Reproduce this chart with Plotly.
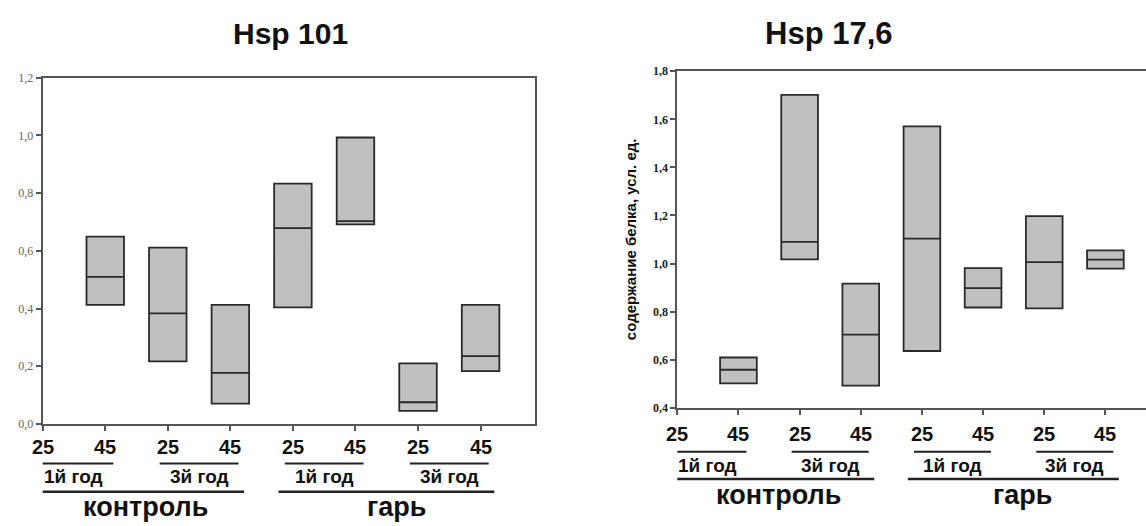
import plotly.graph_objects as go

# ---------------- data ----------------
cat_labels = ["25", "45", "25", "45", "25", "45", "25", "45"]
year_labels = ["1й год", "3й год", "1й год", "3й год"]
year_start = [0, 2, 4, 6]
site_labels = ["контроль", "гарь"]
site_start = [0, 4]
site_end = [3, 7]

# Hsp 101 (boxes at categories 1..7)
hsp101_pos = [1, 2, 3, 4, 5, 6, 7]
hsp101_q1 = [0.413, 0.217, 0.070, 0.404, 0.692, 0.045, 0.183]
hsp101_med = [0.510, 0.383, 0.177, 0.679, 0.703, 0.075, 0.235]
hsp101_q3 = [0.649, 0.611, 0.413, 0.833, 0.993, 0.210, 0.413]

# Hsp 17,6
hsp176_pos = [1, 2, 3, 4, 5, 6, 7]
hsp176_q1 = [0.501, 1.017, 0.492, 0.636, 0.817, 0.813, 0.979]
hsp176_med = [0.558, 1.090, 0.704, 1.104, 0.898, 1.006, 1.016]
hsp176_q3 = [0.609, 1.702, 0.916, 1.571, 0.981, 1.197, 1.055]

W, H = 1146, 526
SANS = "Liberation Sans, Arial, sans-serif"
SERIF = "Liberation Serif, Times New Roman, serif"

fig = go.Figure()

def add_box(pos, q1, med, q3, xa, ya):
    fig.add_trace(go.Box(
        x=pos, q1=q1, median=med, q3=q3, lowerfence=q1, upperfence=q3,
        width=0.6, whiskerwidth=0, boxpoints=False,
        fillcolor="#c0c0c0", line=dict(color="#2a2a2a", width=1.8),
        xaxis=xa, yaxis=ya, showlegend=False, hoverinfo="skip"))

add_box(hsp101_pos, hsp101_q1, hsp101_med, hsp101_q3, "x", "y")
add_box(hsp176_pos, hsp176_q1, hsp176_med, hsp176_q3, "x2", "y2")

def px_x(p):
    return p / W

def px_y(p):
    return (H - p) / H

axis_common = dict(showgrid=False, zeroline=False, showline=True,
                   linecolor="#555", linewidth=2, ticks="outside",
                   ticklen=5, tickwidth=1.5, tickcolor="#555")

fig.update_layout(
    width=W, height=H,
    margin=dict(l=0, r=0, t=0, b=0),
    paper_bgcolor="white", plot_bgcolor="white",
    separators=", ",
    showlegend=False,
    xaxis=dict(domain=[px_x(42.7), px_x(535)], range=[0, 7.87],
               tickvals=list(range(8)), showticklabels=False,
               mirror=True, anchor="y", **axis_common),
    yaxis=dict(domain=[px_y(428.3), px_y(72.7)], range=[0, 1.2],
               tickvals=[0, 0.2, 0.4, 0.6, 0.8, 1.0, 1.2], tickformat=".1f",
               tickfont=dict(family=SERIF, size=12, color="#666"),
               mirror=True, anchor="x", **axis_common),
    xaxis2=dict(domain=[px_x(677.3), 1.0], range=[0.0, 7.664],
                tickvals=list(range(8)), showticklabels=False,
                mirror=True, anchor="y2", **axis_common),
    yaxis2=dict(domain=[px_y(411.7), px_y(66)], range=[0.4, 1.8],
                tickvals=[0.4, 0.6, 0.8, 1.0, 1.2, 1.4, 1.6, 1.8], tickformat=".1f",
                tickfont=dict(family=SERIF, size=12, color="#222", weight="bold"),
                mirror=False, anchor="x2", **axis_common),
)

annotations = []
shapes = []

# titles
annotations.append(dict(text="<b>Hsp 101</b>", x=px_x(290), y=px_y(27), xref="paper", yref="paper",
                        showarrow=False, xanchor="center", yanchor="middle",
                        font=dict(family=SANS, size=30, color="#111")))
annotations.append(dict(text="<b>Hsp 17,6</b>", x=px_x(829), y=px_y(27), xref="paper", yref="paper",
                        showarrow=False, xanchor="center", yanchor="middle",
                        font=dict(family=SANS, size=31, color="#111")))
# y axis title for right chart
annotations.append(dict(text="<b>содержание белка, усл. ед.</b>", x=px_x(630.5), y=px_y(239),
                        xref="paper", yref="paper", textangle=-90, showarrow=False,
                        xanchor="center", yanchor="middle",
                        font=dict(family=SANS, size=15, color="#111")))

# bracket labels under each chart
charts = [
    dict(xref="x", y_cat=452, y_subline=469, y_subtext=482, y_line=498, y_text=514),
    dict(xref="x2", y_cat=439, y_subline=457, y_subtext=471, y_line=485, y_text=501),
]
for c in charts:
    for i, lab in enumerate(cat_labels):
        annotations.append(dict(text="<b>%s</b>" % lab, x=i, y=px_y(c["y_cat"]), xref=c["xref"],
                                yref="paper", showarrow=False, xanchor="center", yanchor="middle",
                                font=dict(family=SANS, size=20, color="#111")))
    for lab, s in zip(year_labels, year_start):
        shapes.append(dict(type="line", xref=c["xref"], yref="paper",
                           x0=s - 0.13, x1=s + 1.13, y0=px_y(c["y_subline"]), y1=px_y(c["y_subline"]),
                           line=dict(color="#222", width=2)))
        annotations.append(dict(text="<b>%s</b>" % lab, x=s + 0.5, y=px_y(c["y_subtext"]), xref=c["xref"],
                                yref="paper", showarrow=False, xanchor="center", yanchor="middle",
                                font=dict(family=SANS, size=19, color="#111")))
    for lab, s, e in zip(site_labels, site_start, site_end):
        shapes.append(dict(type="line", xref=c["xref"], yref="paper",
                           x0=s - 0.23, x1=e + 0.22, y0=px_y(c["y_line"]), y1=px_y(c["y_line"]),
                           line=dict(color="#222", width=2.5)))
        annotations.append(dict(text="<b>%s</b>" % lab, x=(s + e) / 2 + 0.15, y=px_y(c["y_text"]),
                                xref=c["xref"], yref="paper", showarrow=False,
                                xanchor="center", yanchor="middle",
                                font=dict(family=SANS, size=27, color="#111")))

fig.update_layout(annotations=annotations, shapes=shapes)

fig.write_html("out.html", config={"displayModeBar": False},
               post_script="document.body.style.margin='0';document.body.style.overflow='hidden';")
